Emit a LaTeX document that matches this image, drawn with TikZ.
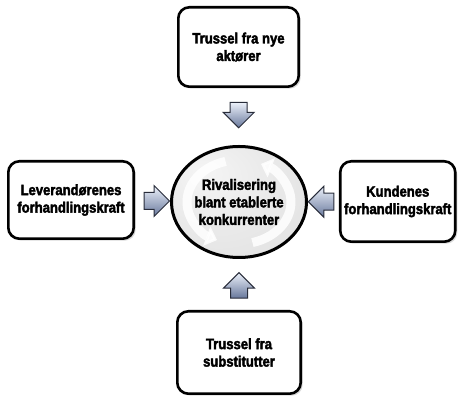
\documentclass[tikz,border=0pt]{standalone}
\usepackage{fontspec}
\setmainfont{Liberation Sans}[FakeStretch=0.87, BoldFeatures={FakeBold=2.5}]
\usetikzlibrary{arrows.meta, shapes.geometric, shapes.arrows, shadows, calc, backgrounds}

\definecolor{arrowlight}{RGB}{236,241,250}
\definecolor{arrowdark}{RGB}{104,120,156}
\definecolor{arrowline}{RGB}{40,44,58}
\pgfdeclareradialshading{rivalshade}{\pgfpoint{-14bp}{14bp}}{%
  color(0bp)=(gray!8); color(22bp)=(gray!17); color(45bp)=(gray!25); color(62bp)=(gray!38)}

\begin{document}
\begin{tikzpicture}[
        x=1pt, y=1pt,
        force/.style={rectangle, rounded corners=11pt, draw=black, line width=2.6pt, fill=white,
                      drop shadow={shadow xshift=2pt, shadow yshift=-2pt, opacity=0.3},
                      align=center, inner sep=1pt,
                      font=\bfseries\fontsize{15}{17.5}\selectfont},
        rivalry/.style={ellipse, draw=black, line width=3pt, minimum width=135pt,
                        minimum height=111pt, align=center, inner sep=0pt,
                        font=\bfseries\fontsize{15}{17.5}\selectfont},
        push/.style={single arrow, draw=arrowline, line width=1pt, top color=arrowlight,
                     bottom color=arrowdark, minimum height=23pt, inner sep=8pt,
                     single arrow head extend=7pt, single arrow head indent=0pt},
        swirl/.style={draw=white, opacity=0.85, line width=9pt,
                      -{Triangle[width=20pt, length=11pt]}}
    ]
        \useasboundingbox (0,0) rectangle (458,403);

        \node[rivalry] (rival) at (239,201) {Rivalisering\\blant etablerte\\konkurrenter};

        \node[force, minimum width=120.4pt, minimum height=79.4pt] (nye) at (238.5,356) {Trussel fra nye\\aktører};
        \node[force, minimum width=125.4pt, minimum height=77.4pt] (leverandor) at (71,203) {Leverandørenes\\forhandlingskraft};
        \node[force, minimum width=115pt, minimum height=80.4pt] (kunde) at (397.75,201.5) {Kundenes\\forhandlingskraft};
        \node[force, minimum width=123.4pt, minimum height=82.4pt] (substitutt) at (239,50.5) {Trussel fra\\substitutter};

        % shaded body and faint cycle arrows behind the text
        \begin{scope}[on background layer]
            \shade[shading=rivalshade] (rival.center) ellipse [x radius=67.5, y radius=55.5];
            \draw[swirl] ($(rival.center)+(105:52 and 42)$) arc [start angle=105, end angle=245, x radius=52, y radius=42];
            \draw[swirl] ($(rival.center)+(285:52 and 42)$) arc [start angle=285, end angle=425, x radius=52, y radius=42];
        \end{scope}

        \node[push, shape border rotate=270] (pushnye) at ($(nye.south)!0.4!(rival.north)$) {};
        \node[push, shape border rotate=0] (pushleverandor) at ($(leverandor.east)!0.5!(rival.west)$) {};
        \node[push, shape border rotate=180] (pushkunde) at ($(kunde.west)!0.44!(rival.east)$) {};
        \node[push, shape border rotate=90] (pushsubstitutt) at ($(substitutt.north)!0.4!(rival.south)$) {};
    \end{tikzpicture}
\end{document}
